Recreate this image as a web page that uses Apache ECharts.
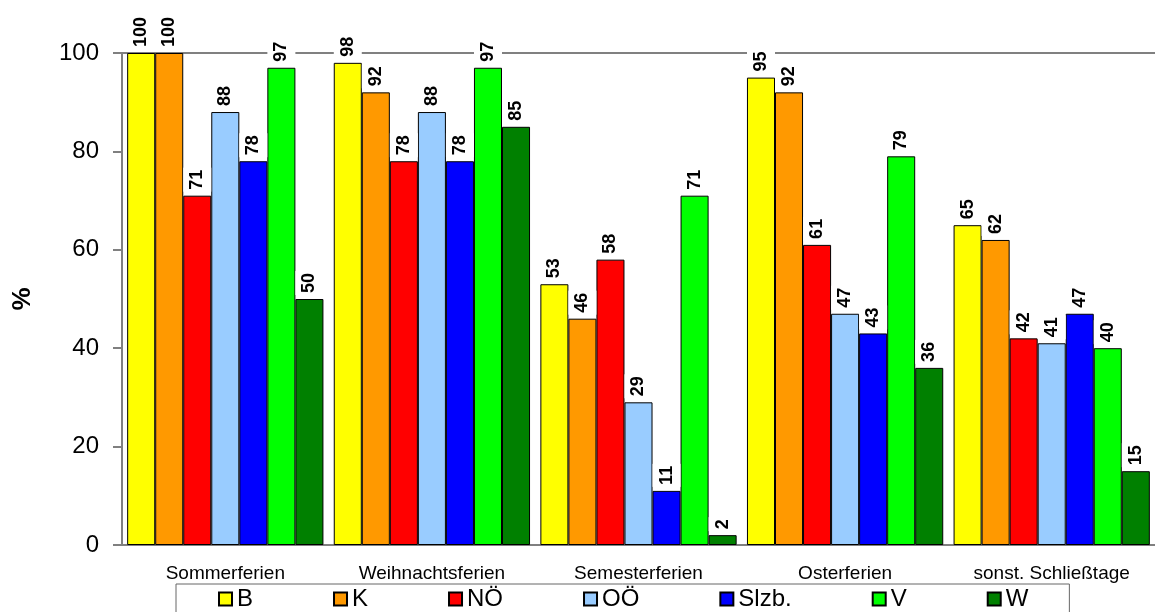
<!DOCTYPE html>
<html>
<head>
<meta charset="utf-8">
<script src="https://cdn.jsdelivr.net/npm/echarts@6/dist/echarts.min.js"></script>
<style>
  html, body { margin: 0; padding: 0; background: #fff; }
  #chart { width: 1155px; height: 612px; }
</style>
</head>
<body>
<div id="chart"></div>
<script>
// Kategorien (x-Achse)
const categories = ['Sommerferien', 'Weihnachtsferien', 'Semesterferien', 'Osterferien', 'sonst. Schließtage']
// Bundesländer (Serien)
const regions = ['B', 'K', 'NÖ', 'OÖ', 'Slzb.', 'V', 'W']
const colors = ['#FFFF00', '#FF9900', '#FF0000', '#99CCFF', '#0000FF', '#00FF00', '#008000']
// Werte je Bundesland, Reihenfolge wie categories
const valB = [100, 98, 53, 95, 65]
const valK = [100, 92, 46, 92, 62]
const valNOe = [71, 78, 58, 61, 42]
const valOOe = [88, 88, 29, 47, 41]
const valSlzb = [78, 78, 11, 43, 47]
const valV = [97, 97, 71, 79, 40]
const valW = [50, 85, 2, 36, 15]
const values = [valB, valK, valNOe, valOOe, valSlzb, valV, valW]
const yTicks = { min: 0, max: 100, interval: 20 }

const chart = echarts.init(document.getElementById('chart'))

const series = regions.map((name, i) => ({
  name: name,
  type: 'bar',
  data: values[i],
  barGap: '0%',
  barCategoryGap: '5%',
  itemStyle: {
    color: colors[i],
    borderColor: '#000',
    borderWidth: 1
  },
  label: {
    show: true,
    position: 'top',
    rotate: 90,
    align: 'left',
    verticalAlign: 'middle',
    distance: 4,
    fontFamily: 'Liberation Sans',
    fontSize: 18,
    fontWeight: 'bold',
    color: '#000',
    backgroundColor: '#fff',
    padding: [5, 2, 5, 2]
  }
}))

chart.setOption({
  animation: false,
  backgroundColor: '#fff',
  grid: {
    left: 122,
    right: 0,
    top: 53,
    bottom: 67
  },
  legend: {
    data: regions,
    left: 176,
    top: 584,
    orient: 'horizontal',
    icon: 'rect',
    itemWidth: 13,
    itemHeight: 13,
    itemGap: 80,
    padding: [3, 41, 5, 42],
    borderColor: '#666',
    borderWidth: 1,
    textStyle: {
      fontFamily: 'Liberation Sans',
      fontSize: 24,
      color: '#000'
    }
  },
  xAxis: [
    {
      type: 'category',
      data: categories,
      axisLine: { show: true, lineStyle: { color: '#808080', width: 2 } },
      axisTick: { show: false },
      axisLabel: {
        margin: 19,
        fontFamily: 'Liberation Sans',
        fontSize: 19,
        color: '#000'
      }
    },
    {
      // obere Begrenzungslinie bei 100
      type: 'category',
      position: 'top',
      data: categories,
      axisLine: { show: true, lineStyle: { color: '#808080', width: 2 } },
      axisTick: { show: false },
      axisLabel: { show: false }
    }
  ],
  yAxis: {
    type: 'value',
    min: yTicks.min,
    max: yTicks.max,
    interval: yTicks.interval,
    name: '%',
    nameLocation: 'middle',
    nameGap: 86,
    nameRotate: 90,
    nameTextStyle: {
      fontFamily: 'Liberation Sans',
      fontSize: 26,
      fontWeight: 'bold',
      color: '#000'
    },
    axisLine: { show: true, lineStyle: { color: '#808080', width: 2 } },
    axisTick: { show: true, inside: false, length: 9, lineStyle: { color: '#808080', width: 2 } },
    splitLine: { show: false },
    axisLabel: {
      margin: 23,
      fontFamily: 'Liberation Sans',
      fontSize: 24,
      color: '#000'
    }
  },
  series: series
})
</script>
</body>
</html>
